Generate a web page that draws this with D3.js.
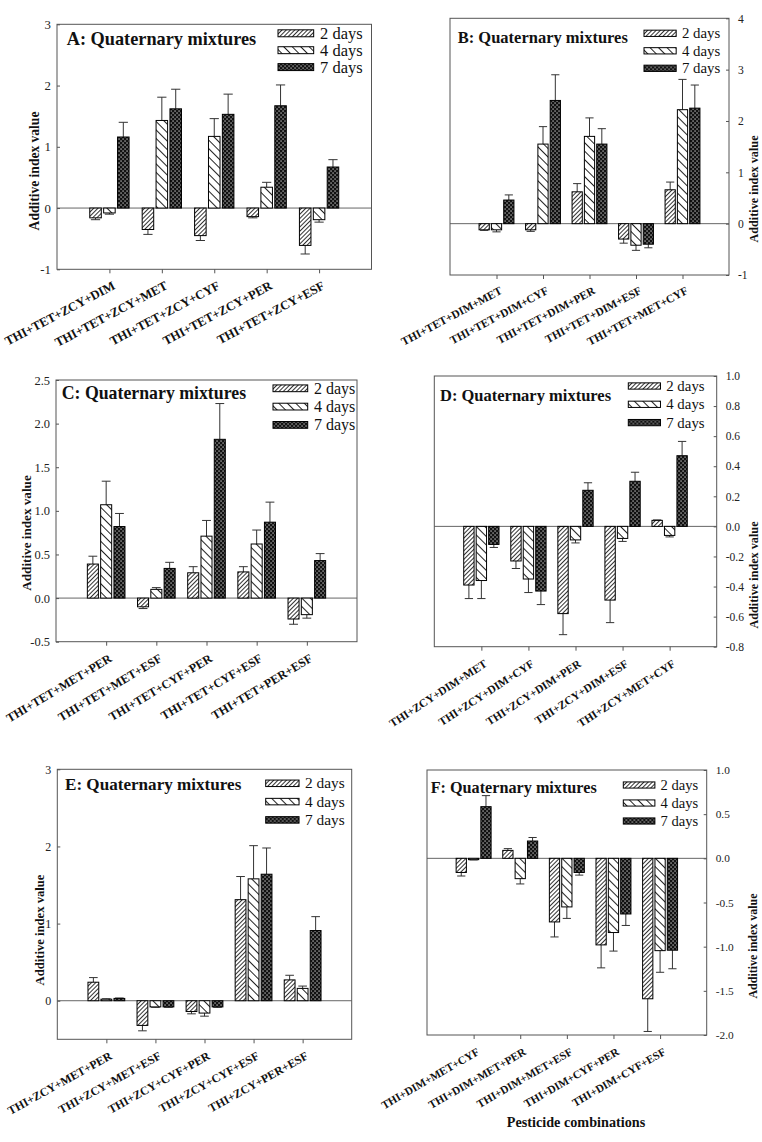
<!DOCTYPE html>
<html>
<head>
<meta charset="utf-8">
<script src="https://cdn.jsdelivr.net/npm/d3@7"></script>
<style>
  body { margin: 0; background: #fff; }
  svg { display: block; }
  text { font-family: "Liberation Serif", "Times New Roman", serif; }
</style>
</head>
<body>
<div id="chart"></div>
<script>
// Additive index values for quaternary pesticide mixtures, six panels (A-F).

const dayLabels = ['2 days', '4 days', '7 days'];

// Panel A
const catsA = ['THI+TET+ZCY+DIM', 'THI+TET+ZCY+MET', 'THI+TET+ZCY+CYF', 'THI+TET+ZCY+PER', 'THI+TET+ZCY+ESF'];
const valsA = [[-0.16, -0.35, -0.45, -0.14, -0.61], [-0.08, 1.43, 1.17, 0.34, -0.19], [1.16, 1.62, 1.53, 1.67, 0.67]];
const errsA = [[0.03, 0.08, 0.08, 0.02, 0.14], [0.02, 0.38, 0.29, 0.08, 0.04], [0.24, 0.32, 0.33, 0.34, 0.12]];
const ticksA = [-1, 0, 1, 2, 3];

// Panel B
const catsB = ['THI+TET+DIM+MET', 'THI+TET+DIM+CYF', 'THI+TET+DIM+PER', 'THI+TET+DIM+ESF', 'THI+TET+MET+CYF'];
const valsB = [[-0.12, -0.12, 0.62, -0.30, 0.66], [-0.12, 1.55, 1.70, -0.42, 2.22], [0.46, 2.40, 1.55, -0.40, 2.25]];
const errsB = [[0.01, 0.03, 0.16, 0.08, 0.15], [0.04, 0.34, 0.36, 0.10, 0.59], [0.10, 0.50, 0.30, 0.07, 0.45]];
const ticksB = [-1, 0, 1, 2, 3, 4];

// Panel C
const catsC = ['THI+TET+MET+PER', 'THI+TET+MET+ESF', 'THI+TET+CYF+PER', 'THI+TET+CYF+ESF', 'THI+TET+PER+ESF'];
const valsC = [[0.39, -0.10, 0.29, 0.30, -0.24], [1.07, 0.10, 0.71, 0.62, -0.19], [0.82, 0.34, 1.82, 0.87, 0.43]];
const errsC = [[0.09, 0.02, 0.07, 0.06, 0.06], [0.27, 0.02, 0.18, 0.16, 0.04], [0.15, 0.07, 0.41, 0.23, 0.08]];
const ticksC = [-0.5, 0, 0.5, 1.0, 1.5, 2.0, 2.5];

// Panel D
const catsD = ['THI+ZCY+DIM+MET', 'THI+ZCY+DIM+CYF', 'THI+ZCY+DIM+PER', 'THI+ZCY+DIM+ESF', 'THI+ZCY+MET+CYF'];
const valsD = [[-0.39, -0.23, -0.58, -0.49, 0.04], [-0.36, -0.35, -0.09, -0.08, -0.06], [-0.12, -0.43, 0.24, 0.30, 0.47]];
const errsD = [[0.09, 0.05, 0.14, 0.15, 0.003], [0.12, 0.09, 0.02, 0.02, 0.01], [0.02, 0.09, 0.05, 0.06, 0.095]];
const ticksD = [-0.8, -0.6, -0.4, -0.2, 0, 0.2, 0.4, 0.6, 0.8, 1.0];

// Panel E
const catsE = ['THI+ZCY+MET+PER', 'THI+ZCY+MET+ESF', 'THI+ZCY+CYF+PER', 'THI+ZCY+CYF+ESF', 'THI+ZCY+PER+ESF'];
const valsE = [[0.24, -0.32, -0.14, 1.31, 0.27], [0.02, -0.08, -0.16, 1.58, 0.16], [0.03, -0.08, -0.08, 1.64, 0.91]];
const errsE = [[0.06, 0.07, 0.03, 0.30, 0.06], [0.005, 0.005, 0.04, 0.43, 0.03], [0.005, 0.005, 0.005, 0.34, 0.18]];
const ticksE = [0, 1, 2, 3];

// Panel F
const catsF = ['THI+DIM+MET+CYF', 'THI+DIM+MET+PER', 'THI+DIM+MET+ESF', 'THI+DIM+CYF+PER', 'THI+DIM+CYF+ESF'];
const valsF = [[-0.16, 0.09, -0.72, -0.98, -1.59], [-0.015, -0.23, -0.55, -0.84, -1.045], [0.585, 0.196, -0.16, -0.63, -1.04]];
const errsF = [[0.04, 0.02, 0.17, 0.26, 0.37], [0.003, 0.06, 0.13, 0.21, 0.245], [0.125, 0.04, 0.03, 0.13, 0.21]];
const ticksF = [-2.0, -1.5, -1.0, -0.5, 0, 0.5, 1.0];

const width = 762, height = 1142;

const svg = d3.select('#chart')
    .append('svg')
    .attr('width', width)
    .attr('height', height);

// Fill patterns for the three exposure times.
const defs = svg.append('defs');

const p2 = defs.append('pattern')
    .attr('id', 'fill2')
    .attr('patternUnits', 'userSpaceOnUse')
    .attr('width', 3).attr('height', 3)
    .attr('patternTransform', 'rotate(45)');
p2.append('rect').attr('width', 3).attr('height', 3).attr('fill', '#fff');
p2.append('line').attr('x1', 0.5).attr('y1', 0).attr('x2', 0.5).attr('y2', 3)
    .attr('stroke', '#333').attr('stroke-width', 1);

const p4 = defs.append('pattern')
    .attr('id', 'fill4')
    .attr('patternUnits', 'userSpaceOnUse')
    .attr('width', 6).attr('height', 6)
    .attr('patternTransform', 'rotate(-45)');
p4.append('rect').attr('width', 6).attr('height', 6).attr('fill', '#fff');
p4.append('line').attr('x1', 0.5).attr('y1', 0).attr('x2', 0.5).attr('y2', 6)
    .attr('stroke', '#222').attr('stroke-width', 1);

const p7 = defs.append('pattern')
    .attr('id', 'fill7')
    .attr('patternUnits', 'userSpaceOnUse')
    .attr('width', 4).attr('height', 4);
p7.append('rect').attr('width', 4).attr('height', 4).attr('fill', '#111');
p7.append('rect').attr('x', 0.5).attr('y', 0.5).attr('width', 1.1).attr('height', 1.1).attr('fill', '#fff');
p7.append('rect').attr('x', 2.5).attr('y', 2.5).attr('width', 1.1).attr('height', 1.1).attr('fill', '#fff');

const fills = ['url(#fill2)', 'url(#fill4)', 'url(#fill7)'];

function drawPanel(p, cats, vals, errs, ticks) {
    const x = d3.scaleLinear().domain([0, cats.length + 1]).range([p.x0, p.x1]);
    const y = d3.scaleLinear().domain(p.dom).range([p.y1, p.y0]);
    const step = x(1) - x(0);
    const bw = step * 0.22;
    const off = step * 0.265;
    const fs = p.fs;
    const g = svg.append('g');

    // Zero line.
    g.append('line')
        .attr('x1', p.x0).attr('x2', p.x1)
        .attr('y1', y(0)).attr('y2', y(0))
        .attr('stroke', '#666').attr('stroke-width', 1);

    const rows = cats.flatMap((c, ci) => vals.map((s, si) => ({ ci, si, v: s[ci], e: errs[si][ci] })));

    // Error bars (only on the side away from zero).
    const eb = g.append('g').selectAll('g')
        .data(rows)
        .enter()
        .append('g')
        .attr('stroke', '#333')
        .attr('stroke-width', 1);
    eb.append('line')
        .attr('x1', d => x(d.ci + 1) + (d.si - 1) * off)
        .attr('x2', d => x(d.ci + 1) + (d.si - 1) * off)
        .attr('y1', d => y(d.v))
        .attr('y2', d => y(d.v + Math.sign(d.v) * d.e));
    eb.append('line')
        .attr('x1', d => x(d.ci + 1) + (d.si - 1) * off - bw * 0.4)
        .attr('x2', d => x(d.ci + 1) + (d.si - 1) * off + bw * 0.4)
        .attr('y1', d => y(d.v + Math.sign(d.v) * d.e))
        .attr('y2', d => y(d.v + Math.sign(d.v) * d.e));

    // Bars.
    g.append('g').selectAll('rect')
        .data(rows)
        .enter()
        .append('rect')
        .attr('x', d => x(d.ci + 1) + (d.si - 1) * off - bw / 2)
        .attr('width', bw)
        .attr('y', d => Math.min(y(d.v), y(0)))
        .attr('height', d => Math.abs(y(d.v) - y(0)))
        .attr('fill', d => fills[d.si])
        .attr('stroke', '#000')
        .attr('stroke-width', 1);

    // Frame.
    g.append('rect')
        .attr('x', p.x0).attr('y', p.y0)
        .attr('width', p.x1 - p.x0).attr('height', p.y1 - p.y0)
        .attr('fill', 'none')
        .attr('stroke', '#555')
        .attr('stroke-width', 1);

    // Y axis.
    const yAxis = (p.side === 'left' ? d3.axisLeft(y) : d3.axisRight(y))
        .tickValues(ticks)
        .tickFormat(d3.format(p.fmt))
        .tickSize(-3)
        .tickPadding(p.side === 'left' ? 6 : 9);
    const ya = g.append('g')
        .attr('transform', `translate(${p.side === 'left' ? p.x0 : p.x1},0)`)
        .call(yAxis);
    ya.select('.domain').remove();
    ya.selectAll('line').attr('stroke', '#555');
    ya.selectAll('text')
        .attr('font-family', '"Liberation Serif", serif')
        .attr('font-size', fs * 0.7)
        .attr('fill', '#222')
        .text(d => d3.format(p.fmt)(d).replace('−', '-'));

    // X axis with rotated category labels.
    const xAxis = d3.axisBottom(x)
        .tickValues(d3.range(1, cats.length + 1))
        .tickFormat(i => cats[i - 1])
        .tickSize(4);
    const xa = g.append('g')
        .attr('transform', `translate(0,${p.y1})`)
        .call(xAxis);
    xa.select('.domain').remove();
    xa.selectAll('line').attr('stroke', '#555');
    xa.selectAll('text')
        .attr('x', null).attr('y', null).attr('dy', null)
        .attr('text-anchor', 'end')
        .attr('transform', `translate(${p.lx},${p.ly}) rotate(${-p.rot})`)
        .attr('font-family', '"Liberation Serif", serif')
        .attr('font-weight', 'bold')
        .attr('font-size', fs * 0.69)
        .attr('fill', '#111');

    // Y axis title.
    g.append('text')
        .attr('transform', `translate(${p.ylx},${p.yly}) rotate(-90)`)
        .attr('text-anchor', 'middle')
        .attr('dy', '0.35em')
        .attr('font-weight', 'bold')
        .attr('font-size', fs * 0.74)
        .attr('fill', '#111')
        .text('Additive index value');

    // Panel title.
    g.append('text')
        .attr('x', p.x0 + p.tdx)
        .attr('y', p.y0 + p.tdy)
        .attr('font-weight', 'bold')
        .attr('font-size', fs)
        .attr('fill', '#111')
        .text(p.title);

    // Legend.
    const sw = fs * 1.95, sh = fs * 0.38;
    const leg = g.append('g')
        .selectAll('g')
        .data(dayLabels)
        .enter()
        .append('g')
        .attr('transform', (d, i) => `translate(${p.x1 - p.legDx},${p.y0 + p.legDy + i * p.legGap})`);
    leg.append('rect')
        .attr('x', 0).attr('y', -sh / 2)
        .attr('width', sw).attr('height', sh)
        .attr('fill', (d, i) => fills[i])
        .attr('stroke', '#000')
        .attr('stroke-width', 1);
    leg.append('text')
        .attr('x', sw + fs * 0.35)
        .attr('dy', '0.33em')
        .attr('font-size', fs * 0.9)
        .attr('fill', '#111')
        .text(d => d);
}

drawPanel({ x0: 57, x1: 371.5, y0: 24.3, y1: 269.3, dom: [-1, 3], fmt: 'd', side: 'left',
    title: 'A: Quaternary mixtures', fs: 18.3, tdx: 9.7, tdy: 20.7,
    legDx: 93.5, legDy: 9, legGap: 16.9, ylx: 34, yly: 171, rot: 28, lx: 6, ly: 19 },
    catsA, valsA, errsA, ticksA);

drawPanel({ x0: 450, x1: 729, y0: 18.3, y1: 275, dom: [-1, 4], fmt: 'd', side: 'right',
    title: 'B: Quaternary mixtures', fs: 16.5, tdx: 7.7, tdy: 24.4,
    legDx: 85, legDy: 15, legGap: 17.5, ylx: 754, yly: 189, rot: 28, lx: 6, ly: 18 },
    catsB, valsB, errsB, ticksB);

drawPanel({ x0: 56, x1: 357, y0: 380, y1: 641.7, dom: [-0.5, 2.5], fmt: '.1f', side: 'left',
    title: 'C: Quaternary mixtures', fs: 17.8, tdx: 5.7, tdy: 19.3,
    legDx: 84, legDy: 8.3, legGap: 18.3, ylx: 26, yly: 533, rot: 31, lx: 6, ly: 19 },
    catsC, valsC, errsC, ticksC);

drawPanel({ x0: 434.3, x1: 716.7, y0: 376, y1: 646.7, dom: [-0.8, 1.0], fmt: '.1f', side: 'right',
    title: 'D: Quaternary mixtures', fs: 16.5, tdx: 5.7, tdy: 25,
    legDx: 88.4, legDy: 10, legGap: 18.3, ylx: 754, yly: 575, rot: 33, lx: 6, ly: 19 },
    catsD, valsD, errsD, ticksD);

drawPanel({ x0: 57.3, x1: 351.7, y0: 769.3, y1: 1039.3, dom: [-0.5, 3], fmt: 'd', side: 'left',
    title: 'E: Quaternary mixtures', fs: 17.1, tdx: 7.7, tdy: 20.7,
    legDx: 86, legDy: 14, legGap: 18.3, ylx: 40, yly: 930, rot: 29, lx: 6, ly: 19 },
    catsE, valsE, errsE, ticksE);

drawPanel({ x0: 427, x1: 706.7, y0: 770, y1: 1035, dom: [-2, 1], fmt: '.1f', side: 'right',
    title: 'F: Quaternary mixtures', fs: 16.2, tdx: 3.7, tdy: 23.3,
    legDx: 83.4, legDy: 15, legGap: 18, ylx: 753, yly: 946, rot: 30, lx: 6, ly: 19 },
    catsF, valsF, errsF, ticksF);

// Shared x-axis title under panel F.
svg.append('text')
    .attr('x', 576)
    .attr('y', 1127)
    .attr('text-anchor', 'middle')
    .attr('font-weight', 'bold')
    .attr('font-size', 14.2)
    .attr('fill', '#111')
    .text('Pesticide combinations');
</script>
</body>
</html>
